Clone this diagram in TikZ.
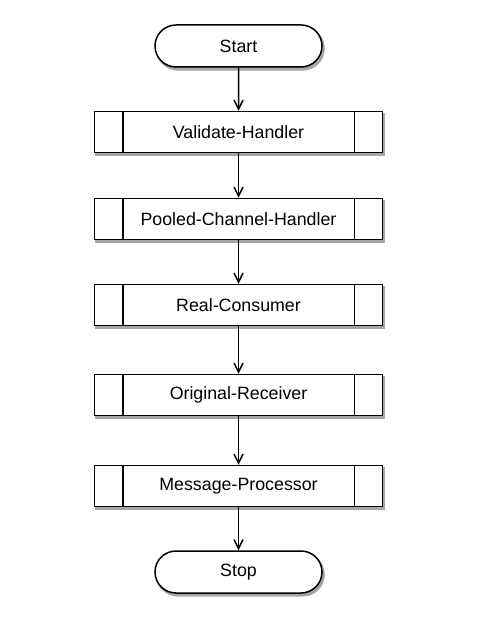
\documentclass[tikz,border=0pt]{standalone}
\usepackage{fontspec}
\setmainfont{Liberation Sans}
\usetikzlibrary{arrows.meta,shapes.misc}
\begin{document}
\begin{tikzpicture}[x=1pt,y=-1pt,
  shd/.style={preaction={draw=black!35,line width=2pt,fill=black!35,transform canvas={shift={(1.8pt,-2.6pt)}}}},
  term/.style={rounded rectangle,draw,line width=1.5pt,fill=white,minimum width=167pt,minimum height=42pt,inner sep=0pt,font=\fontsize{17.8}{20}\selectfont,shd},
  proc/.style={rectangle,draw,line width=1.5pt,fill=white,minimum width=288pt,minimum height=41pt,inner sep=0pt,font=\fontsize{17.8}{20}\selectfont,shd,
    append after command={\pgfextra{\let\mynode\tikzlastnode}
      (\mynode.north west) ++(29pt,0) edge[line width=1.5pt] ([xshift=29pt]\mynode.south west)
      (\mynode.north east) ++(-29pt,0) edge[line width=1.5pt] ([xshift=-29pt]\mynode.south east)}},
  conn/.style={line width=1.5pt,-{Straight Barb[length=9pt,width=9pt,line width=1.5pt]}}]
\useasboundingbox (0,0) rectangle (494,617);
\node[term] (start) at (238.5,46) {Start};
\node[proc] (v) at (238.5,132) {Validate-Handler};
\node[proc] (p) at (238.5,219) {Pooled-Channel-Handler};
\node[proc] (r) at (238.5,305) {Real-Consumer};
\node[proc] (o) at (238.5,395) {Original-Receiver};
\node[proc] (m) at (238.5,486) {Message-Processor};
\node[term] (stop) at (238.5,572) {Stop};
\draw[conn] (start) -- (v);
\draw[conn] (v) -- (p);
\draw[conn] (p) -- (r);
\draw[conn] (r) -- (o);
\draw[conn] (o) -- (m);
\draw[conn] (m) -- (stop);
\end{tikzpicture}
\end{document}
